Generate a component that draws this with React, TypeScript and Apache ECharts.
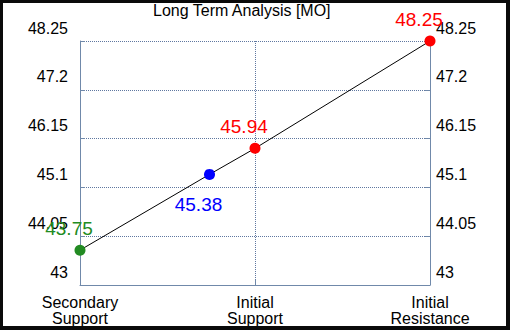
import React, { useEffect, useRef } from "react";
import * as echarts from "echarts";

const chartTitle = "Long Term Analysis [MO]";
const categories = ["Secondary\nSupport", "Initial\nSupport", "Initial\nResistance"];
const pointX = [0, 0.74, 1, 2];
const pointValues = [43.75, 45.38, 45.94, 48.25];
const pointColors = ["#228b22", "#0000ff", "#ff0000", "#ff0000"];
const labelBelow = [false, true, false, false];
const yTickLabels = ["43", "44.05", "45.1", "46.15", "47.2", "48.25"];
const yBase = 43;
const yStep = 1.05;

const FONT = "'Liberation Sans', Arial, sans-serif";
const AXIS_COLOR = "#7089aa";
const GRID_COLOR = "#5f77a0";

export default function App() {
  const ref = useRef<HTMLDivElement>(null);

  useEffect(() => {
    if (!ref.current) return;
    const chart = echarts.init(ref.current, null, { renderer: "svg" });
    const yMax = yStep * (yTickLabels.length - 1);

    const yAxisCommon = (position: "left" | "right", margin: number) => ({
      type: "value" as const,
      position,
      min: 0,
      max: yMax,
      interval: yStep,
      axisLine: { show: true, lineStyle: { color: AXIS_COLOR, width: 1 } },
      axisTick: { show: true, inside: true, length: 5, lineStyle: { color: AXIS_COLOR } },
      splitLine: position === "left"
        ? { show: true, lineStyle: { color: GRID_COLOR, type: "dotted", width: 1 } }
        : { show: false },
      axisLabel: {
        show: true,
        color: "#000",
        fontSize: 16,
        fontFamily: FONT,
        margin,
        lineHeight: 26,
        verticalAlign: "bottom",
        showMinLabel: true,
        showMaxLabel: true,
        formatter: (v: number) => yTickLabels[Math.round(v / yStep)] ?? "",
      },
    });

    chart.setOption({
      animation: false,
      backgroundColor: "#ffffff",
      title: {
        text: chartTitle,
        left: 150,
        top: -1,
        padding: 0,
        textStyle: { fontSize: 16, fontWeight: "normal", color: "#000", fontFamily: FONT },
      },
      grid: { left: 77, right: 76, top: 38, bottom: 36, containLabel: false },
      xAxis: {
        type: "value",
        min: 0,
        max: categories.length - 1,
        interval: 1,
        axisLine: { show: true, lineStyle: { color: AXIS_COLOR, width: 1 } },
        axisTick: { show: true, inside: true, length: 5, lineStyle: { color: AXIS_COLOR } },
        splitLine: { show: true, lineStyle: { color: GRID_COLOR, type: "dotted", width: 1 } },
        axisLabel: {
          show: true,
          color: "#000",
          fontSize: 16,
          fontFamily: FONT,
          lineHeight: 16,
          margin: 9,
          showMinLabel: true,
          showMaxLabel: true,
          formatter: (v: number) => categories[Math.round(v)] ?? "",
        },
      },
      yAxis: [yAxisCommon("left", 12), yAxisCommon("right", 6)],
      series: [
        {
          type: "line",
          yAxisIndex: 0,
          symbol: "circle",
          symbolSize: 11,
          lineStyle: { color: "#000", width: 1 },
          label: { show: true, fontSize: 19, fontFamily: FONT, offset: [-11, 0] },
          data: pointX.map((x, i) => ({
            value: [x, pointValues[i] - yBase],
            itemStyle: { color: pointColors[i], borderWidth: 0 },
            label: {
              show: true,
              position: labelBelow[i] ? "bottom" : "top",
              distance: labelBelow[i] ? 15 : 7,
              color: pointColors[i],
              formatter: pointValues[i].toFixed(2),
            },
          })),
        },
      ],
    });

    return () => chart.dispose();
  }, []);

  return (
    <div style={{ position: "fixed", left: 0, top: 0, width: 510, height: 330, background: "#0a0a0a" }}>
      <div
        ref={ref}
        style={{ position: "absolute", left: 3, top: 3, width: 503, height: 323, background: "#fff" }}
      />
    </div>
  );
}
